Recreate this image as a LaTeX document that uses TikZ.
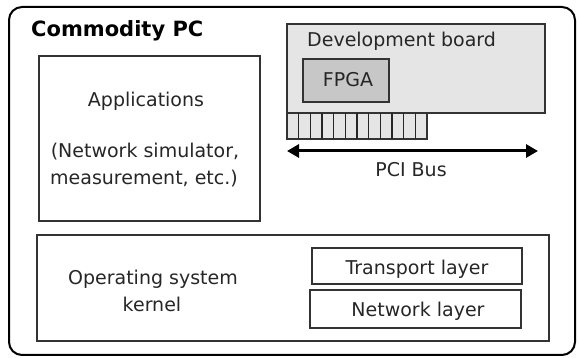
\documentclass[tikz,border=0pt]{standalone}
\usepackage{fontspec}
\setmainfont{DejaVu Sans}
\usetikzlibrary{arrows.meta}
\tikzset{
  box/.style={draw=black!80, line width=1.4pt},
  lbl/.style={inner sep=0pt, anchor=base, font=\fontsize{19}{23}\selectfont, text=black!85},
}
\begin{document}
\begin{tikzpicture}[x=1pt,y=-1pt]
\useasboundingbox (0,0) rectangle (579,358);
% outer
\draw[line width=2pt, rounded corners=13pt] (9,7) rectangle (575,355);
\node[inner sep=0pt, anchor=base west, font=\fontsize{21}{25}\bfseries\selectfont] (title) at (31,37) {Commodity PC};
% applications
\draw[box] (39,56) rectangle (260,221);
\node[lbl] (app) at (146,107) {Applications};
\node[lbl] (app2) at (145,158) {(Network simulator,};
\node[lbl] (app3) at (144,185) {measurement, etc.)};
% dev board
\draw[box, fill=black!10] (287,24) rectangle (545,113);
\node[lbl, anchor=base west] (dev) at (307,47) {Development board};
\draw[box, fill=black!22] (303,59) rectangle (389,102);
\node[lbl] (fpga) at (348,87) {FPGA};
% connector teeth
\draw[box, fill=black!10] (287,113) rectangle (427,139);
\foreach \i in {1,...,11} {
  \draw[black!85, line width=1.6pt] ({287+\i*140/12},113) -- ({287+\i*140/12},139);
}
% PCI bus arrow
\coordinate (pl) at (287,151);
\coordinate (pr) at (538,151);
\draw[line width=3pt, {Triangle[length=12pt,width=13pt]}-{Triangle[length=12pt,width=13pt]}] (pl) -- (pr);
\node[lbl] (pci) at (411,177) {PCI Bus};
% OS kernel
\draw[box] (37,235) rectangle (549,341);
\node[lbl] (os1) at (153,285) {Operating system};
\node[lbl] (os2) at (152,312) {kernel};
\draw[box] (312,248) rectangle (522,284);
\node[lbl] (tr) at (417,275) {Transport layer};
\draw[box] (310,290) rectangle (521,328);
\node[lbl] (nw) at (418,317) {Network layer};
\end{tikzpicture}
\end{document}
